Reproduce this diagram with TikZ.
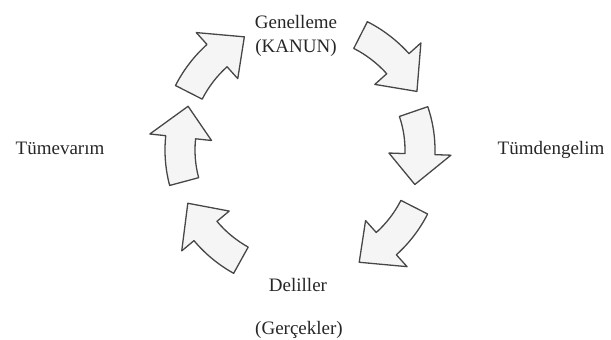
\documentclass[tikz,border=0pt]{standalone}
\usepackage{fontspec}
\setmainfont{Liberation Serif}
\begin{document}
\begin{tikzpicture}[x=1pt,y=1pt,
  carrow/.style={draw=black!72,fill=black!4,line width=1.3pt,line join=round},
  lbl/.style={font=\fontsize{19}{21}\selectfont,text=black!85,inner sep=0pt}]
\useasboundingbox (0,0) rectangle (611,340);
\coordinate (C) at (302,190);
\foreach \a/\r in {136/127, 46/129, 2/118, -44/126, -136/126, 178/122}{
  \pgfmathsetmacro\ro{\r+15}
  \pgfmathsetmacro\ri{\r-15}
  \pgfmathsetmacro\bo{\r+31}
  \pgfmathsetmacro\bi{\r-31}
  \pgfmathsetmacro\at{\a+17}
  \pgfmathsetmacro\ab{\a-4}
  \pgfmathsetmacro\ap{\a-19}
  \begin{scope}[shift={(C)}]
  \draw[carrow] (\at:\ro pt) arc[start angle=\at, end angle=\ab, radius=\ro pt]
    -- (\ab:\bo pt) -- (\ap:\r pt) -- (\ab:\bi pt) -- (\ab:\ri pt)
    arc[start angle=\ab, end angle=\at, radius=\ri pt] -- cycle;
  \end{scope}
}
\node[lbl] (gen) at (296,318) {Genelleme};
\node[lbl] (kan) at (296,292) {(KANUN)};
\node[lbl] (tum) at (551,190) {Tümdengelim};
\node[lbl] (tev) at (60,192) {Tümevarım};
\node[lbl] (del) at (298,55) {Deliller};
\node[lbl] (ger) at (299,10) {(Gerçekler)};
\end{tikzpicture}
\end{document}
